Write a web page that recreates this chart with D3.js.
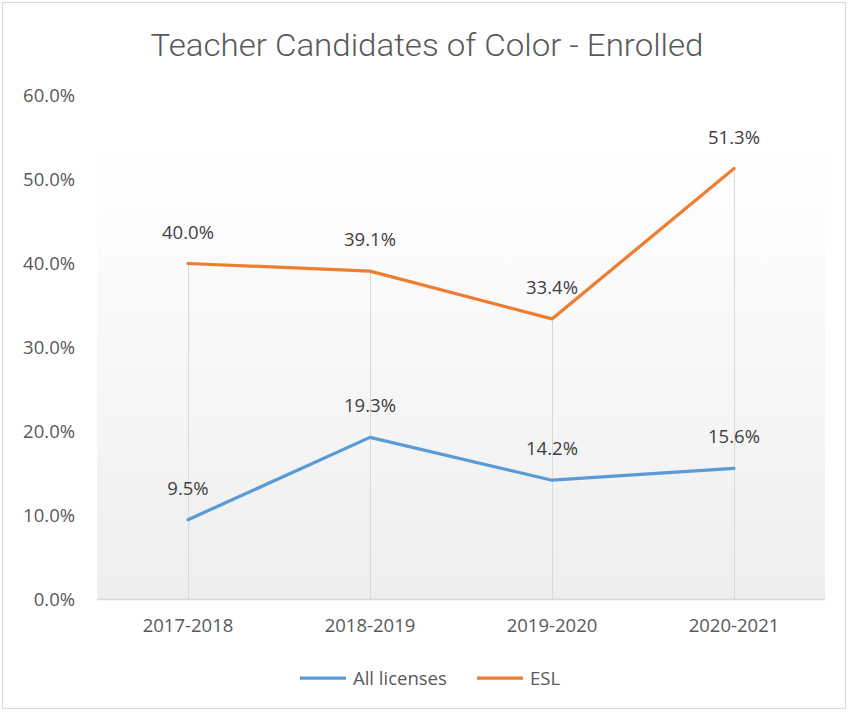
<!DOCTYPE html>
<html>
<head>
<meta charset="utf-8">
<script src="https://cdn.jsdelivr.net/npm/d3@7"></script>
<style>
  html, body { margin: 0; padding: 0; background: #fff; }
  svg { display: block; }
</style>
</head>
<body>
<svg id="chart"></svg>
<script>
// ── Data ─────────────────────────────────────────────
const years       = ['2017-2018', '2018-2019', '2019-2020', '2020-2021'];
const allLicenses = [9.5, 19.3, 14.2, 15.6];
const esl         = [40.0, 39.1, 33.4, 51.3];
const yTicks      = [0, 10, 20, 30, 40, 50, 60];

const series = [
  { name: 'All licenses', values: allLicenses, color: '#5b9bd5' },
  { name: 'ESL',          values: esl,         color: '#ed7d31' }
];

// ── Layout ───────────────────────────────────────────
const W = 852, H = 712;
const margin = { top: 95, right: 27, bottom: 113, left: 97 };
const iW = W - margin.left - margin.right;
const iH = H - margin.top - margin.bottom;
const FONT = '"Open Sans", sans-serif';
const FS = 18.5;

const svg = d3.select('#chart').attr('width', W).attr('height', H);

// outer frame
svg.append('rect')
  .attr('x', 2.5).attr('y', 2.5)
  .attr('width', 843).attr('height', 706)
  .attr('fill', '#fff')
  .attr('stroke', '#d9d9d9')
  .attr('stroke-width', 1);

// title
svg.append('text')
  .attr('x', 427).attr('y', 56)
  .attr('text-anchor', 'middle')
  .attr('fill', '#595959')
  .attr('font-size', 31)
  .attr('font-weight', 300)
  .attr('font-family', 'Roboto, sans-serif')
  .attr('textLength', 553)
  .attr('lengthAdjust', 'spacingAndGlyphs')
  .text('Teacher Candidates of Color - Enrolled');

const g = svg.append('g').attr('transform', `translate(${margin.left},${margin.top})`);

// ── Scales ───────────────────────────────────────────
const x = d3.scaleBand().domain(years).range([0, iW]);
const y = d3.scaleLinear().domain([0, 60]).range([iH + 0.5, 0.5]);
const cx = d => x(d) + x.bandwidth() / 2;

// plot background gradient
const defs = svg.append('defs');
const grad = defs.append('linearGradient')
  .attr('id', 'bg').attr('x1', 0).attr('y1', 0).attr('x2', 0).attr('y2', 1);
grad.append('stop').attr('offset', '0%').attr('stop-color', '#ffffff');
grad.append('stop').attr('offset', '100%').attr('stop-color', '#eeeeee');

g.append('rect')
  .attr('x', 0).attr('y', y(53))
  .attr('width', iW).attr('height', y(0) - y(53))
  .attr('fill', 'url(#bg)');

// baseline
g.append('line')
  .attr('x1', 0).attr('x2', iW)
  .attr('y1', y(0)).attr('y2', y(0))
  .attr('stroke', '#d9d9d9').attr('stroke-width', 1.5);

// drop lines
g.selectAll('.drop')
  .data(years)
  .join('line')
    .attr('class', 'drop')
    .attr('x1', d => Math.round(cx(d)) + 0.5).attr('x2', d => Math.round(cx(d)) + 0.5)
    .attr('y1', (d, i) => y(d3.max(series, s => s.values[i])))
    .attr('y2', y(0))
    .attr('stroke', '#d9d9d9').attr('stroke-width', 1);

// ── Axes ─────────────────────────────────────────────
const yAxis = g.append('g')
  .call(d3.axisLeft(y).tickValues(yTicks).tickSize(0).tickPadding(22)
    .tickFormat(d => d.toFixed(1) + '%'));
yAxis.select('.domain').remove();
yAxis.selectAll('text')
  .attr('fill', '#595959').attr('font-size', FS).attr('font-family', FONT);

const xAxis = g.append('g')
  .attr('transform', `translate(0,${y(0)})`)
  .call(d3.axisBottom(x).tickSize(0).tickPadding(19));
xAxis.select('.domain').remove();
xAxis.selectAll('text')
  .attr('fill', '#595959').attr('font-size', FS).attr('font-family', FONT);

// ── Lines ────────────────────────────────────────────
const line = d3.line()
  .x((d, i) => cx(years[i]))
  .y(d => y(d));

series.forEach(s => {
  g.append('path')
    .datum(s.values)
    .attr('d', line)
    .attr('fill', 'none')
    .attr('stroke', s.color)
    .attr('stroke-width', 3.25)
    .attr('stroke-linejoin', 'round')
    .attr('stroke-linecap', 'round');

  g.selectAll(null)
    .data(s.values)
    .join('text')
      .attr('x', (d, i) => cx(years[i]))
      .attr('y', d => y(d) - 25)
      .attr('text-anchor', 'middle')
      .attr('fill', '#404040')
      .attr('font-size', FS)
      .attr('font-family', FONT)
      .text(d => d.toFixed(1) + '%');
});

// ── Legend ───────────────────────────────────────────
const legendX = [300, 477];
const legend = svg.append('g').attr('transform', 'translate(0,678)');
series.forEach((s, i) => {
  legend.append('line')
    .attr('x1', legendX[i]).attr('x2', legendX[i] + 46)
    .attr('y1', 0).attr('y2', 0)
    .attr('stroke', s.color).attr('stroke-width', 3.25);
  legend.append('text')
    .attr('x', legendX[i] + 53).attr('y', 6.5)
    .attr('fill', '#595959')
    .attr('font-size', FS)
    .attr('font-family', FONT)
    .text(s.name);
});
</script>
</body>
</html>
